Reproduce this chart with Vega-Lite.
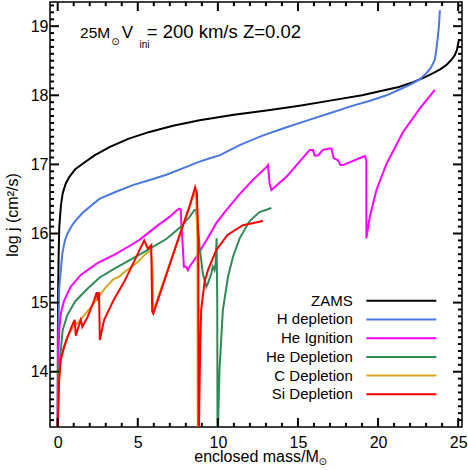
{
  "$schema": "https://vega.github.io/schema/vega-lite/v6.json",
  "width": 412,
  "height": 425,
  "autosize": {"type": "none"},
  "padding": {"left": 50, "top": 2, "right": 6, "bottom": 43},
  "background": "white",
  "config": {
    "view": {"stroke": "#000", "strokeWidth": 1.5},
    "font": "Liberation Sans",
    "axis": {"labelFont": "Liberation Sans", "titleFont": "Liberation Sans", "labelColor": "#000", "titleColor": "#000", "titleFontWeight": "normal", "domain": false, "labelOverlap": false, "labelFlush": false, "ticks": false, "grid": false}
  },
  "datasets": {
    "curves": [
      {"s": "ZAMS", "o": 0, "m": 0.0, "j": 12.8},
      {"s": "ZAMS", "o": 1, "m": 0.01, "j": 14.5},
      {"s": "ZAMS", "o": 2, "m": 0.03, "j": 15.2},
      {"s": "ZAMS", "o": 3, "m": 0.06, "j": 15.7},
      {"s": "ZAMS", "o": 4, "m": 0.1, "j": 16.1},
      {"s": "ZAMS", "o": 5, "m": 0.2, "j": 16.4},
      {"s": "ZAMS", "o": 6, "m": 0.31, "j": 16.58},
      {"s": "ZAMS", "o": 7, "m": 0.5, "j": 16.72},
      {"s": "ZAMS", "o": 8, "m": 0.73, "j": 16.82},
      {"s": "ZAMS", "o": 9, "m": 1.1, "j": 16.93},
      {"s": "ZAMS", "o": 10, "m": 1.56, "j": 17.01},
      {"s": "ZAMS", "o": 11, "m": 2.3, "j": 17.13},
      {"s": "ZAMS", "o": 12, "m": 3.23, "j": 17.25},
      {"s": "ZAMS", "o": 13, "m": 4.4, "j": 17.37},
      {"s": "ZAMS", "o": 14, "m": 5.73, "j": 17.47},
      {"s": "ZAMS", "o": 15, "m": 7.2, "j": 17.56},
      {"s": "ZAMS", "o": 16, "m": 8.86, "j": 17.64},
      {"s": "ZAMS", "o": 17, "m": 11.0, "j": 17.72},
      {"s": "ZAMS", "o": 18, "m": 13.03, "j": 17.78},
      {"s": "ZAMS", "o": 19, "m": 15.1, "j": 17.85},
      {"s": "ZAMS", "o": 20, "m": 17.19, "j": 17.93},
      {"s": "ZAMS", "o": 21, "m": 19.0, "j": 18.0},
      {"s": "ZAMS", "o": 22, "m": 20.31, "j": 18.07},
      {"s": "ZAMS", "o": 23, "m": 21.3, "j": 18.12},
      {"s": "ZAMS", "o": 24, "m": 22.19, "j": 18.19},
      {"s": "ZAMS", "o": 25, "m": 22.9, "j": 18.26},
      {"s": "ZAMS", "o": 26, "m": 23.44, "j": 18.32},
      {"s": "ZAMS", "o": 27, "m": 23.9, "j": 18.38},
      {"s": "ZAMS", "o": 28, "m": 24.27, "j": 18.44},
      {"s": "ZAMS", "o": 29, "m": 24.6, "j": 18.52},
      {"s": "ZAMS", "o": 30, "m": 24.79, "j": 18.58},
      {"s": "ZAMS", "o": 31, "m": 24.93, "j": 18.66},
      {"s": "ZAMS", "o": 32, "m": 25.0, "j": 18.75},
      {"s": "ZAMS", "o": 33, "m": 25.06, "j": 18.81},

      {"s": "H depletion", "o": 0, "m": 0.0, "j": 12.8},
      {"s": "H depletion", "o": 1, "m": 0.03, "j": 14.5},
      {"s": "H depletion", "o": 2, "m": 0.1, "j": 15.23},
      {"s": "H depletion", "o": 3, "m": 0.19, "j": 15.45},
      {"s": "H depletion", "o": 4, "m": 0.29, "j": 15.71},
      {"s": "H depletion", "o": 5, "m": 0.45, "j": 15.9},
      {"s": "H depletion", "o": 6, "m": 0.61, "j": 16.0},
      {"s": "H depletion", "o": 7, "m": 0.9, "j": 16.12},
      {"s": "H depletion", "o": 8, "m": 1.13, "j": 16.19},
      {"s": "H depletion", "o": 9, "m": 1.56, "j": 16.3},
      {"s": "H depletion", "o": 10, "m": 2.6, "j": 16.5},
      {"s": "H depletion", "o": 11, "m": 3.6, "j": 16.6},
      {"s": "H depletion", "o": 12, "m": 4.69, "j": 16.7},
      {"s": "H depletion", "o": 13, "m": 5.7, "j": 16.77},
      {"s": "H depletion", "o": 14, "m": 6.78, "j": 16.85},
      {"s": "H depletion", "o": 15, "m": 8.0, "j": 16.96},
      {"s": "H depletion", "o": 16, "m": 8.86, "j": 17.04},
      {"s": "H depletion", "o": 17, "m": 9.5, "j": 17.09},
      {"s": "H depletion", "o": 18, "m": 10.1, "j": 17.13},
      {"s": "H depletion", "o": 19, "m": 11.36, "j": 17.28},
      {"s": "H depletion", "o": 20, "m": 12.7, "j": 17.41},
      {"s": "H depletion", "o": 21, "m": 14.06, "j": 17.52},
      {"s": "H depletion", "o": 22, "m": 15.5, "j": 17.63},
      {"s": "H depletion", "o": 23, "m": 16.98, "j": 17.74},
      {"s": "H depletion", "o": 24, "m": 18.44, "j": 17.85},
      {"s": "H depletion", "o": 25, "m": 19.5, "j": 17.92},
      {"s": "H depletion", "o": 26, "m": 20.53, "j": 18.0},
      {"s": "H depletion", "o": 27, "m": 21.3, "j": 18.08},
      {"s": "H depletion", "o": 28, "m": 21.98, "j": 18.15},
      {"s": "H depletion", "o": 29, "m": 22.6, "j": 18.23},
      {"s": "H depletion", "o": 30, "m": 23.02, "j": 18.32},
      {"s": "H depletion", "o": 31, "m": 23.3, "j": 18.4},
      {"s": "H depletion", "o": 32, "m": 23.54, "j": 18.51},
      {"s": "H depletion", "o": 33, "m": 23.63, "j": 18.65},
      {"s": "H depletion", "o": 34, "m": 23.72, "j": 18.82},
      {"s": "H depletion", "o": 35, "m": 23.8, "j": 19.0},
      {"s": "H depletion", "o": 36, "m": 23.86, "j": 19.23},

      {"s": "He Ignition", "o": 0, "m": 0.0, "j": 12.8},
      {"s": "He Ignition", "o": 1, "m": 0.01, "j": 13.8},
      {"s": "He Ignition", "o": 2, "m": 0.04, "j": 14.3},
      {"s": "He Ignition", "o": 3, "m": 0.1, "j": 14.6},
      {"s": "He Ignition", "o": 4, "m": 0.19, "j": 14.84},
      {"s": "He Ignition", "o": 5, "m": 0.4, "j": 15.03},
      {"s": "He Ignition", "o": 6, "m": 0.81, "j": 15.23},
      {"s": "He Ignition", "o": 7, "m": 1.44, "j": 15.4},
      {"s": "He Ignition", "o": 8, "m": 2.48, "j": 15.57},
      {"s": "He Ignition", "o": 9, "m": 3.52, "j": 15.69},
      {"s": "He Ignition", "o": 10, "m": 4.56, "j": 15.83},
      {"s": "He Ignition", "o": 11, "m": 5.11, "j": 15.91},
      {"s": "He Ignition", "o": 12, "m": 5.5, "j": 15.98},
      {"s": "He Ignition", "o": 13, "m": 6.15, "j": 16.1},
      {"s": "He Ignition", "o": 14, "m": 6.98, "j": 16.24},
      {"s": "He Ignition", "o": 15, "m": 7.4, "j": 16.33},
      {"s": "He Ignition", "o": 16, "m": 7.6, "j": 16.36},
      {"s": "He Ignition", "o": 17, "m": 7.68, "j": 16.35},
      {"s": "He Ignition", "o": 18, "m": 7.71, "j": 16.19},
      {"s": "He Ignition", "o": 19, "m": 7.81, "j": 15.81},
      {"s": "He Ignition", "o": 20, "m": 7.88, "j": 15.52},
      {"s": "He Ignition", "o": 21, "m": 8.02, "j": 15.52},
      {"s": "He Ignition", "o": 22, "m": 8.13, "j": 15.47},
      {"s": "He Ignition", "o": 23, "m": 8.23, "j": 15.52},
      {"s": "He Ignition", "o": 24, "m": 8.65, "j": 15.66},
      {"s": "He Ignition", "o": 25, "m": 9.28, "j": 15.9},
      {"s": "He Ignition", "o": 26, "m": 9.9, "j": 16.15},
      {"s": "He Ignition", "o": 27, "m": 10.5, "j": 16.33},
      {"s": "He Ignition", "o": 28, "m": 11.36, "j": 16.57},
      {"s": "He Ignition", "o": 29, "m": 12.2, "j": 16.78},
      {"s": "He Ignition", "o": 30, "m": 13.03, "j": 16.96},
      {"s": "He Ignition", "o": 31, "m": 13.13, "j": 16.99},
      {"s": "He Ignition", "o": 32, "m": 13.23, "j": 16.72},
      {"s": "He Ignition", "o": 33, "m": 13.34, "j": 16.63},
      {"s": "He Ignition", "o": 34, "m": 14.28, "j": 16.82},
      {"s": "He Ignition", "o": 35, "m": 15.1, "j": 17.04},
      {"s": "He Ignition", "o": 36, "m": 15.73, "j": 17.21},
      {"s": "He Ignition", "o": 37, "m": 15.94, "j": 17.21},
      {"s": "He Ignition", "o": 38, "m": 16.04, "j": 17.13},
      {"s": "He Ignition", "o": 39, "m": 16.25, "j": 17.13},
      {"s": "He Ignition", "o": 40, "m": 16.56, "j": 17.21},
      {"s": "He Ignition", "o": 41, "m": 16.98, "j": 17.23},
      {"s": "He Ignition", "o": 42, "m": 17.09, "j": 17.23},
      {"s": "He Ignition", "o": 43, "m": 17.23, "j": 17.09},
      {"s": "He Ignition", "o": 44, "m": 17.5, "j": 17.06},
      {"s": "He Ignition", "o": 45, "m": 17.65, "j": 16.99},
      {"s": "He Ignition", "o": 46, "m": 17.81, "j": 16.99},
      {"s": "He Ignition", "o": 47, "m": 19.06, "j": 17.11},
      {"s": "He Ignition", "o": 48, "m": 19.17, "j": 17.12},
      {"s": "He Ignition", "o": 49, "m": 19.27, "j": 17.06},
      {"s": "He Ignition", "o": 50, "m": 19.27, "j": 15.93},
      {"s": "He Ignition", "o": 51, "m": 19.48, "j": 16.24},
      {"s": "He Ignition", "o": 52, "m": 19.9, "j": 16.63},
      {"s": "He Ignition", "o": 53, "m": 20.53, "j": 17.01},
      {"s": "He Ignition", "o": 54, "m": 21.56, "j": 17.47},
      {"s": "He Ignition", "o": 55, "m": 22.61, "j": 17.81},
      {"s": "He Ignition", "o": 56, "m": 23.54, "j": 18.08},

      {"s": "He Depletion", "o": 0, "m": 0.0, "j": 12.8},
      {"s": "He Depletion", "o": 1, "m": 0.02, "j": 13.39},
      {"s": "He Depletion", "o": 2, "m": 0.1, "j": 14.07},
      {"s": "He Depletion", "o": 3, "m": 0.31, "j": 14.6},
      {"s": "He Depletion", "o": 4, "m": 0.6, "j": 14.82},
      {"s": "He Depletion", "o": 5, "m": 1.1, "j": 15.02},
      {"s": "He Depletion", "o": 6, "m": 1.86, "j": 15.2},
      {"s": "He Depletion", "o": 7, "m": 2.6, "j": 15.36},
      {"s": "He Depletion", "o": 8, "m": 3.6, "j": 15.5},
      {"s": "He Depletion", "o": 9, "m": 4.69, "j": 15.64},
      {"s": "He Depletion", "o": 10, "m": 5.6, "j": 15.76},
      {"s": "He Depletion", "o": 11, "m": 6.78, "j": 15.92},
      {"s": "He Depletion", "o": 12, "m": 7.7, "j": 16.1},
      {"s": "He Depletion", "o": 13, "m": 8.23, "j": 16.24},
      {"s": "He Depletion", "o": 14, "m": 8.54, "j": 16.34},
      {"s": "He Depletion", "o": 15, "m": 8.65, "j": 16.34},
      {"s": "He Depletion", "o": 16, "m": 8.86, "j": 15.81},
      {"s": "He Depletion", "o": 17, "m": 9.06, "j": 15.42},
      {"s": "He Depletion", "o": 18, "m": 9.28, "j": 15.23},
      {"s": "He Depletion", "o": 19, "m": 9.38, "j": 15.28},
      {"s": "He Depletion", "o": 20, "m": 9.59, "j": 15.42},
      {"s": "He Depletion", "o": 21, "m": 9.69, "j": 15.52},
      {"s": "He Depletion", "o": 22, "m": 9.79, "j": 15.47},
      {"s": "He Depletion", "o": 23, "m": 9.86, "j": 15.57},
      {"s": "He Depletion", "o": 24, "m": 9.92, "j": 15.93},
      {"s": "He Depletion", "o": 25, "m": 9.96, "j": 14.99},
      {"s": "He Depletion", "o": 26, "m": 9.98, "j": 12.8},
      {"s": "He Depletion", "o": 27, "m": 10.02, "j": 13.3},
      {"s": "He Depletion", "o": 28, "m": 10.1, "j": 14.02},
      {"s": "He Depletion", "o": 29, "m": 10.31, "j": 14.89},
      {"s": "He Depletion", "o": 30, "m": 10.63, "j": 15.37},
      {"s": "He Depletion", "o": 31, "m": 10.94, "j": 15.66},
      {"s": "He Depletion", "o": 32, "m": 11.36, "j": 15.93},
      {"s": "He Depletion", "o": 33, "m": 11.98, "j": 16.18},
      {"s": "He Depletion", "o": 34, "m": 12.6, "j": 16.31},
      {"s": "He Depletion", "o": 35, "m": 13.34, "j": 16.37},

      {"s": "C Depletion", "o": 0, "m": 0.0, "j": 12.8},
      {"s": "C Depletion", "o": 1, "m": 0.0, "j": 13.2},
      {"s": "C Depletion", "o": 2, "m": 0.09, "j": 13.88},
      {"s": "C Depletion", "o": 3, "m": 0.19, "j": 14.17},
      {"s": "C Depletion", "o": 4, "m": 0.4, "j": 14.36},
      {"s": "C Depletion", "o": 5, "m": 0.61, "j": 14.5},
      {"s": "C Depletion", "o": 6, "m": 0.92, "j": 14.64},
      {"s": "C Depletion", "o": 7, "m": 1.3, "j": 14.72},
      {"s": "C Depletion", "o": 8, "m": 1.8, "j": 14.86},
      {"s": "C Depletion", "o": 9, "m": 2.3, "j": 15.0},
      {"s": "C Depletion", "o": 10, "m": 2.6, "j": 15.1},
      {"s": "C Depletion", "o": 11, "m": 3.0, "j": 15.22},
      {"s": "C Depletion", "o": 12, "m": 3.44, "j": 15.33},
      {"s": "C Depletion", "o": 13, "m": 3.6, "j": 15.35},
      {"s": "C Depletion", "o": 14, "m": 3.86, "j": 15.38},
      {"s": "C Depletion", "o": 15, "m": 4.2, "j": 15.45},
      {"s": "C Depletion", "o": 16, "m": 4.69, "j": 15.53},
      {"s": "C Depletion", "o": 17, "m": 5.1, "j": 15.61},
      {"s": "C Depletion", "o": 18, "m": 5.42, "j": 15.69},
      {"s": "C Depletion", "o": 19, "m": 5.8, "j": 15.76},
      {"s": "C Depletion", "o": 20, "m": 5.88, "j": 15.6},
      {"s": "C Depletion", "o": 21, "m": 5.94, "j": 15.37},
      {"s": "C Depletion", "o": 22, "m": 5.95, "j": 14.94},
      {"s": "C Depletion", "o": 23, "m": 6.0, "j": 14.9},
      {"s": "C Depletion", "o": 24, "m": 6.78, "j": 15.42},
      {"s": "C Depletion", "o": 25, "m": 7.5, "j": 15.9},
      {"s": "C Depletion", "o": 26, "m": 8.2, "j": 16.37},
      {"s": "C Depletion", "o": 27, "m": 8.55, "j": 16.6},
      {"s": "C Depletion", "o": 28, "m": 8.65, "j": 16.5},
      {"s": "C Depletion", "o": 29, "m": 8.72, "j": 15.9},
      {"s": "C Depletion", "o": 30, "m": 8.75, "j": 12.8},

      {"s": "Si Depletion", "o": 0, "m": 0.0, "j": 12.8},
      {"s": "Si Depletion", "o": 1, "m": 0.0, "j": 13.2},
      {"s": "Si Depletion", "o": 2, "m": 0.09, "j": 13.88},
      {"s": "Si Depletion", "o": 3, "m": 0.19, "j": 14.17},
      {"s": "Si Depletion", "o": 4, "m": 0.4, "j": 14.36},
      {"s": "Si Depletion", "o": 5, "m": 0.61, "j": 14.5},
      {"s": "Si Depletion", "o": 6, "m": 0.92, "j": 14.68},
      {"s": "Si Depletion", "o": 7, "m": 1.06, "j": 14.75},
      {"s": "Si Depletion", "o": 8, "m": 1.13, "j": 14.52},
      {"s": "Si Depletion", "o": 9, "m": 1.23, "j": 14.6},
      {"s": "Si Depletion", "o": 10, "m": 1.44, "j": 14.75},
      {"s": "Si Depletion", "o": 11, "m": 1.54, "j": 14.65},
      {"s": "Si Depletion", "o": 12, "m": 1.86, "j": 14.79},
      {"s": "Si Depletion", "o": 13, "m": 2.27, "j": 15.03},
      {"s": "Si Depletion", "o": 14, "m": 2.44, "j": 15.15},
      {"s": "Si Depletion", "o": 15, "m": 2.52, "j": 15.03},
      {"s": "Si Depletion", "o": 16, "m": 2.58, "j": 15.15},
      {"s": "Si Depletion", "o": 17, "m": 2.63, "j": 14.46},
      {"s": "Si Depletion", "o": 18, "m": 2.9, "j": 14.75},
      {"s": "Si Depletion", "o": 19, "m": 3.52, "j": 15.05},
      {"s": "Si Depletion", "o": 20, "m": 4.15, "j": 15.3},
      {"s": "Si Depletion", "o": 21, "m": 4.78, "j": 15.6},
      {"s": "Si Depletion", "o": 22, "m": 5.4, "j": 15.9},
      {"s": "Si Depletion", "o": 23, "m": 5.63, "j": 15.78},
      {"s": "Si Depletion", "o": 24, "m": 5.84, "j": 15.83},
      {"s": "Si Depletion", "o": 25, "m": 5.9, "j": 14.87},
      {"s": "Si Depletion", "o": 26, "m": 5.97, "j": 14.84},
      {"s": "Si Depletion", "o": 27, "m": 6.78, "j": 15.4},
      {"s": "Si Depletion", "o": 28, "m": 7.5, "j": 15.9},
      {"s": "Si Depletion", "o": 29, "m": 8.2, "j": 16.37},
      {"s": "Si Depletion", "o": 30, "m": 8.58, "j": 16.67},
      {"s": "Si Depletion", "o": 31, "m": 8.69, "j": 16.58},
      {"s": "Si Depletion", "o": 32, "m": 8.78, "j": 15.95},
      {"s": "Si Depletion", "o": 33, "m": 8.8, "j": 12.8},
      {"s": "Si Depletion", "o": 34, "m": 8.84, "j": 13.5},
      {"s": "Si Depletion", "o": 35, "m": 8.9, "j": 14.41},
      {"s": "Si Depletion", "o": 36, "m": 8.96, "j": 14.9},
      {"s": "Si Depletion", "o": 37, "m": 9.17, "j": 15.3},
      {"s": "Si Depletion", "o": 38, "m": 9.38, "j": 15.47},
      {"s": "Si Depletion", "o": 39, "m": 9.9, "j": 15.76},
      {"s": "Si Depletion", "o": 40, "m": 10.6, "j": 15.98},
      {"s": "Si Depletion", "o": 41, "m": 11.56, "j": 16.12},
      {"s": "Si Depletion", "o": 42, "m": 12.81, "j": 16.18}
    ],
    "legend": [
      {"s": "ZAMS"}, {"s": "H depletion"}, {"s": "He Ignition"}, {"s": "He Depletion"}, {"s": "C Depletion"}, {"s": "Si Depletion"}
    ],
    "xticks": [
      {"v": 0}, {"v": 1}, {"v": 2}, {"v": 3}, {"v": 4}, {"v": 5}, {"v": 6}, {"v": 7}, {"v": 8}, {"v": 9}, {"v": 10}, {"v": 11}, {"v": 12},
      {"v": 13}, {"v": 14}, {"v": 15}, {"v": 16}, {"v": 17}, {"v": 18}, {"v": 19}, {"v": 20}, {"v": 21}, {"v": 22}, {"v": 23}, {"v": 24}, {"v": 25}
    ],
    "yticks": [
      {"v": 13.3}, {"v": 13.4}, {"v": 13.5}, {"v": 13.6}, {"v": 13.7}, {"v": 13.8}, {"v": 13.9}, {"v": 14}, {"v": 14.1}, {"v": 14.2},
      {"v": 14.3}, {"v": 14.4}, {"v": 14.5}, {"v": 14.6}, {"v": 14.7}, {"v": 14.8}, {"v": 14.9}, {"v": 15}, {"v": 15.1}, {"v": 15.2},
      {"v": 15.3}, {"v": 15.4}, {"v": 15.5}, {"v": 15.6}, {"v": 15.7}, {"v": 15.8}, {"v": 15.9}, {"v": 16}, {"v": 16.1}, {"v": 16.2},
      {"v": 16.3}, {"v": 16.4}, {"v": 16.5}, {"v": 16.6}, {"v": 16.7}, {"v": 16.8}, {"v": 16.9}, {"v": 17}, {"v": 17.1}, {"v": 17.2},
      {"v": 17.3}, {"v": 17.4}, {"v": 17.5}, {"v": 17.6}, {"v": 17.7}, {"v": 17.8}, {"v": 17.9}, {"v": 18}, {"v": 18.1}, {"v": 18.2},
      {"v": 18.3}, {"v": 18.4}, {"v": 18.5}, {"v": 18.6}, {"v": 18.7}, {"v": 18.8}, {"v": 18.9}, {"v": 19}, {"v": 19.1}, {"v": 19.2}, {"v": 19.3}
    ]
  },
  "layer": [
    {
      "data": {"name": "curves"},
      "mark": {"type": "line", "strokeWidth": 2, "clip": true},
      "encoding": {
        "x": {"field": "m", "type": "quantitative",
          "scale": {"domain": [-0.48, 25.24], "nice": false, "zero": false},
          "axis": {"orient": "bottom", "values": [0, 5, 10, 15, 20, 25], "format": "d",
            "labelPadding": 7, "labelFontSize": 16, "title": "enclosed mass/M", "titleFontSize": 16, "titlePadding": -2}},
        "y": {"field": "j", "type": "quantitative",
          "scale": {"domain": [13.2, 19.35], "nice": false, "zero": false},
          "axis": {"orient": "left", "values": [14, 15, 16, 17, 18, 19], "format": "d",
            "labelPadding": 2, "labelFontSize": 16, "title": "log j (cm²/s)", "titleFontSize": 16, "titlePadding": 10}},
        "color": {"field": "s", "type": "nominal",
          "scale": {"domain": ["ZAMS", "H depletion", "He Ignition", "He Depletion", "C Depletion", "Si Depletion"],
                    "range": ["#000000", "#4a78e0", "#ff00ff", "#2e8b57", "#daa520", "#ff0000"]},
          "legend": null},
        "order": {"field": "o", "type": "quantitative"}
      }
    },
    {
      "data": {"name": "xticks"},
      "transform": [{"filter": "datum.v % 5 === 0"}],
      "mark": {"type": "rule", "strokeWidth": 2, "stroke": "black"},
      "encoding": {
        "x": {"field": "v", "type": "quantitative", "scale": {"domain": [-0.48, 25.24], "nice": false, "zero": false}, "axis": null},
        "y": {"datum": 13.2, "type": "quantitative", "scale": {"domain": [13.2, 19.35], "nice": false, "zero": false}, "axis": null},
        "y2": {"datum": 13.33}
      }
    },
    {
      "data": {"name": "xticks"},
      "transform": [{"filter": "datum.v % 5 !== 0"}],
      "mark": {"type": "rule", "strokeWidth": 2, "stroke": "black"},
      "encoding": {
        "x": {"field": "v", "type": "quantitative", "scale": {"domain": [-0.48, 25.24], "nice": false, "zero": false}, "axis": null},
        "y": {"datum": 13.2, "type": "quantitative", "scale": {"domain": [13.2, 19.35], "nice": false, "zero": false}, "axis": null},
        "y2": {"datum": 13.26}
      }
    },
    {
      "data": {"name": "xticks"},
      "transform": [{"filter": "datum.v % 5 === 0"}],
      "mark": {"type": "rule", "strokeWidth": 2, "stroke": "black"},
      "encoding": {
        "x": {"field": "v", "type": "quantitative", "scale": {"domain": [-0.48, 25.24], "nice": false, "zero": false}, "axis": null},
        "y": {"datum": 19.35, "type": "quantitative", "scale": {"domain": [13.2, 19.35], "nice": false, "zero": false}, "axis": null},
        "y2": {"datum": 19.22}
      }
    },
    {
      "data": {"name": "xticks"},
      "transform": [{"filter": "datum.v % 5 !== 0"}],
      "mark": {"type": "rule", "strokeWidth": 2, "stroke": "black"},
      "encoding": {
        "x": {"field": "v", "type": "quantitative", "scale": {"domain": [-0.48, 25.24], "nice": false, "zero": false}, "axis": null},
        "y": {"datum": 19.35, "type": "quantitative", "scale": {"domain": [13.2, 19.35], "nice": false, "zero": false}, "axis": null},
        "y2": {"datum": 19.29}
      }
    },
    {
      "data": {"name": "yticks"},
      "transform": [{"filter": "abs(datum.v - round(datum.v)) < 0.01"}],
      "mark": {"type": "rule", "strokeWidth": 2, "stroke": "black"},
      "encoding": {
        "y": {"field": "v", "type": "quantitative", "scale": {"domain": [13.2, 19.35], "nice": false, "zero": false}, "axis": null},
        "x": {"datum": -0.48, "type": "quantitative", "scale": {"domain": [-0.48, 25.24], "nice": false, "zero": false}, "axis": null},
        "x2": {"datum": 0.08}
      }
    },
    {
      "data": {"name": "yticks"},
      "transform": [{"filter": "abs(datum.v - round(datum.v)) >= 0.01"}],
      "mark": {"type": "rule", "strokeWidth": 2, "stroke": "black"},
      "encoding": {
        "y": {"field": "v", "type": "quantitative", "scale": {"domain": [13.2, 19.35], "nice": false, "zero": false}, "axis": null},
        "x": {"datum": -0.48, "type": "quantitative", "scale": {"domain": [-0.48, 25.24], "nice": false, "zero": false}, "axis": null},
        "x2": {"datum": -0.23}
      }
    },
    {
      "data": {"name": "yticks"},
      "transform": [{"filter": "abs(datum.v - round(datum.v)) < 0.01"}],
      "mark": {"type": "rule", "strokeWidth": 2, "stroke": "black"},
      "encoding": {
        "y": {"field": "v", "type": "quantitative", "scale": {"domain": [13.2, 19.35], "nice": false, "zero": false}, "axis": null},
        "x": {"datum": 25.24, "type": "quantitative", "scale": {"domain": [-0.48, 25.24], "nice": false, "zero": false}, "axis": null},
        "x2": {"datum": 24.68}
      }
    },
    {
      "data": {"name": "yticks"},
      "transform": [{"filter": "abs(datum.v - round(datum.v)) >= 0.01"}],
      "mark": {"type": "rule", "strokeWidth": 2, "stroke": "black"},
      "encoding": {
        "y": {"field": "v", "type": "quantitative", "scale": {"domain": [13.2, 19.35], "nice": false, "zero": false}, "axis": null},
        "x": {"datum": 25.24, "type": "quantitative", "scale": {"domain": [-0.48, 25.24], "nice": false, "zero": false}, "axis": null},
        "x2": {"datum": 24.99}
      }
    },
    {
      "data": {"name": "legend"},
      "mark": {"type": "rule", "strokeWidth": 2},
      "encoding": {
        "x": {"datum": 19.27, "type": "quantitative", "scale": {"domain": [-0.48, 25.24], "nice": false, "zero": false}, "axis": null},
        "x2": {"datum": 23.64},
        "y": {"field": "s", "type": "nominal", "sort": null,
          "scale": {"type": "point", "domain": ["_1","_2","_3","_4","_5","_6","_7","_8","_9","_10","_11","_12","_13","_14","_15","ZAMS", "H depletion", "He Ignition", "He Depletion", "C Depletion", "Si Depletion","_16"], "padding": 0.845, "align": 0.56},
          "axis": null},
        "color": {"field": "s", "type": "nominal", "legend": null}
      }
    },
    {
      "data": {"name": "legend"},
      "mark": {"type": "text", "align": "right", "baseline": "middle", "fontSize": 15, "font": "Liberation Sans", "color": "#000"},
      "encoding": {
        "x": {"datum": 18.42, "type": "quantitative", "scale": {"domain": [-0.48, 25.24], "nice": false, "zero": false}, "axis": null},
        "y": {"field": "s", "type": "nominal", "sort": null,
          "scale": {"type": "point", "domain": ["_1","_2","_3","_4","_5","_6","_7","_8","_9","_10","_11","_12","_13","_14","_15","ZAMS", "H depletion", "He Ignition", "He Depletion", "C Depletion", "Si Depletion","_16"], "padding": 0.845, "align": 0.56},
          "axis": null},
        "text": {"field": "s"}
      }
    },
    {
      "data": {"values": [{}]},
      "mark": {"type": "text", "align": "left", "baseline": "alphabetic", "fontSize": 15.5, "font": "Liberation Sans", "color": "#000"},
      "encoding": {
        "x": {"datum": 1.4, "type": "quantitative", "scale": {"domain": [-0.48, 25.24], "nice": false, "zero": false}, "axis": null},
        "y": {"datum": 18.822, "type": "quantitative", "scale": {"domain": [13.2, 19.35], "nice": false, "zero": false}, "axis": null},
        "text": {"value": "25M"}
      }
    },
    {
      "data": {"values": [{}]},
      "mark": {"type": "text", "align": "left", "baseline": "middle", "fontSize": 10, "font": "DejaVu Sans", "color": "#000"},
      "encoding": {
        "x": {"datum": 3.34, "type": "quantitative", "scale": {"domain": [-0.48, 25.24], "nice": false, "zero": false}, "axis": null},
        "y": {"datum": 18.773, "type": "quantitative", "scale": {"domain": [13.2, 19.35], "nice": false, "zero": false}, "axis": null},
        "text": {"value": "⊙"}
      }
    },
    {
      "data": {"values": [{}]},
      "mark": {"type": "text", "align": "left", "baseline": "alphabetic", "fontSize": 17, "font": "Liberation Sans", "color": "#000"},
      "encoding": {
        "x": {"datum": 4.0, "type": "quantitative", "scale": {"domain": [-0.48, 25.24], "nice": false, "zero": false}, "axis": null},
        "y": {"datum": 18.822, "type": "quantitative", "scale": {"domain": [13.2, 19.35], "nice": false, "zero": false}, "axis": null},
        "text": {"value": "V"}
      }
    },
    {
      "data": {"values": [{}]},
      "mark": {"type": "text", "align": "left", "baseline": "alphabetic", "fontSize": 10, "font": "Liberation Sans", "color": "#000"},
      "encoding": {
        "x": {"datum": 5.11, "type": "quantitative", "scale": {"domain": [-0.48, 25.24], "nice": false, "zero": false}, "axis": null},
        "y": {"datum": 18.68, "type": "quantitative", "scale": {"domain": [13.2, 19.35], "nice": false, "zero": false}, "axis": null},
        "text": {"value": "ini"}
      }
    },
    {
      "data": {"values": [{}]},
      "mark": {"type": "text", "align": "left", "baseline": "alphabetic", "fontSize": 18.5, "font": "Liberation Sans", "color": "#000"},
      "encoding": {
        "x": {"datum": 5.56, "type": "quantitative", "scale": {"domain": [-0.48, 25.24], "nice": false, "zero": false}, "axis": null},
        "y": {"datum": 18.822, "type": "quantitative", "scale": {"domain": [13.2, 19.35], "nice": false, "zero": false}, "axis": null},
        "text": {"value": "= 200 km/s Z=0.02"}
      }
    },
    {
      "data": {"values": [{}]},
      "mark": {"type": "text", "align": "center", "baseline": "middle", "fontSize": 10, "font": "DejaVu Sans", "color": "#000"},
      "encoding": {
        "x": {"datum": 16.55, "type": "quantitative", "scale": {"domain": [-0.48, 25.24], "nice": false, "zero": false}, "axis": null},
        "y": {"datum": 12.7, "type": "quantitative", "scale": {"domain": [13.2, 19.35], "nice": false, "zero": false}, "axis": null},
        "text": {"value": "⊙"}
      }
    }
  ],
  "resolve": {"scale": {"y": "independent"}, "axis": {"x": "independent", "y": "independent"}}
}
